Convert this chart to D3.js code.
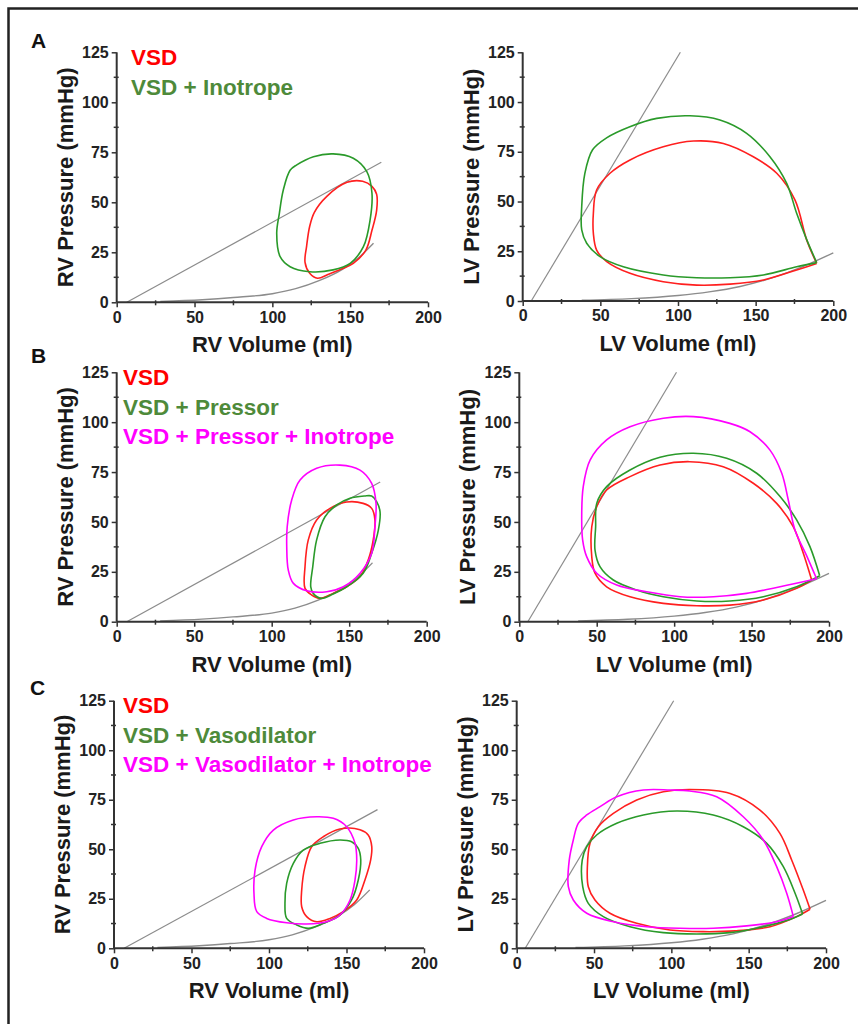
<!DOCTYPE html>
<html>
<head>
  <style>
    body {
      margin: 0;
      padding: 0;
      background: #fff;
      font-family: "Liberation Sans", Arial, sans-serif;
    }
    svg { display: block; }
  </style>
</head>
<body>
  <div id="chart"></div>

  <script src="https://cdnjs.cloudflare.com/ajax/libs/d3/7.8.5/d3.min.js"></script>
  <script>
    // axis ticks
    const volumeTicks = [0, 50, 100, 150, 200];
    const pressureTicks = [0, 25, 50, 75, 100, 125];

    // end-systolic (straight) and end-diastolic (curved) reference lines
    const rvEspvr = [[6.5, 0], [170, 70]];
    const lvEspvr = [[5.5, 0], [101.5, 125]];
    const rvEdpvr = [[28, 0.4], [55, 1.3], [75, 2.4], [100, 4.3], [115, 6.8], [130, 10.8], [145, 16.5], [155, 22], [165, 29.5]];
    const lvEdpvr = [[38, 0.4], [70, 1.2], [100, 2.8], [120, 4.6], [140, 7.3], [160, 11.5], [180, 17.2], [200, 24.2]];

    // legends
    const legendA = ['VSD', 'VSD + Inotrope'];
    const legendB = ['VSD', 'VSD + Pressor', 'VSD + Pressor + Inotrope'];
    const legendC = ['VSD', 'VSD + Vasodilator', 'VSD + Vasodilator + Inotrope'];

    // pressure-volume loops, [volume ml, pressure mmHg]
    // LV loops start at the end-diastolic corner
    const aRvVsd = [[121,20],[122,28],[124,38],[127,45],[135,53],[148,60],[158,60.5],[164,58],[167,54],[167,46],[164,36],[160,26],[152,19.5],[144,16.5],[136,14],[129,12],[124,14.5]];
    const aRvInotrope = [[111.4,66],[107,56],[104.5,44.5],[102.8,34.5],[105,22.8],[111.4,17.8],[124,15.3],[139,16.2],[150,19.5],[158.5,27.8],[162.8,41.2],[164,54.5],[160.7,65.3],[152,72],[139,74.2],[126.4,72.8],[115.7,68.7]];
    const aLvVsd = [[189.3,18.9],[182.9,30.6],[175.3,50.8],[163.6,64.2],[148.5,72.5],[129.2,79.2],[110,80.4],[90.5,77.5],[69.1,70.9],[56.2,64.2],[47.6,55.8],[45.5,44.1],[45.5,34],[47.6,25.6],[54.1,19.8],[69.1,13.9],[90.5,9.7],[112,8],[133.5,8.5],[155,10.6],[176.4,15.6]];
    const aLvInotrope = [[189.3,19.3],[183,30.6],[176.4,44.1],[170,59.1],[159.2,72.5],[144.2,84.3],[127,91],[107.7,93.1],[86.3,91.8],[69,87.6],[54,82],[45,76],[40,64],[38,47.4],[38,35.7],[41.2,29],[49.8,22.3],[64.8,17.2],[90.5,13.1],[112,11.7],[133.5,11.7],[155,13.1],[176.4,17.2]];

    const bRvVsd = [[159,59.3],[164.5,56.8],[166.6,51],[165.5,41],[162.3,31],[157,22.6],[148.4,17.5],[139.7,14.2],[131,11.7],[125.8,13.4],[121.5,16.7],[121.5,27.6],[123.6,41],[129,51],[137.6,56.8],[148.4,60]];
    const bRvPressor = [[150.5,61.9],[159.8,63],[164.5,63],[167.7,60.2],[169.9,55.1],[168.8,45.9],[164.5,34.3],[159,24.3],[148.4,17.5],[139.7,13.9],[132,11.7],[126.8,14.2],[125.2,17.5],[126.5,27.6],[129,41],[134.4,52.6],[141.9,58.5]];
    const bRvPressorInotrope = [[144,78.5],[129,76.9],[118.3,71],[112.9,61],[110,47.6],[109.7,37.6],[110.7,25.9],[114,19.2],[122.6,15.5],[135.5,15],[146.2,17.5],[157,24.3],[164.5,34.3],[166.6,47.6],[167.3,59.3],[164.5,69.3],[157,76]];
    const bLvVsd = [[188.8,20.9],[183.4,34.3],[176.9,47.6],[166.2,59.3],[151.1,69.4],[131.7,77.7],[110,80.2],[90.9,78.5],[71.5,72.7],[56.4,66],[50,57.6],[46.8,47.6],[46.8,32.6],[48.9,24.3],[56.4,17.5],[71.5,12.5],[93,9.2],[114.6,8],[136,8.3],[157.6,10.9],[179.1,16.7]];
    const bLvPressor = [[194,23],[187.7,37.6],[179.1,51],[168.4,62.7],[153.3,74.4],[133.9,81.9],[112.4,84.4],[90.9,82.4],[71.5,76],[56.4,67.7],[50,59.3],[49.3,47.6],[48.9,35.9],[52.1,27.6],[60.7,20.9],[75.8,15.9],[93,12.5],[114.6,10.4],[136,10.4],[157.6,12.5],[179.1,17.5]];
    const bLvPressorInotrope = [[192,21.5],[185.6,33],[178,46],[173.7,61],[169.5,74.4],[161.9,86],[149,95.2],[136,99.4],[112.4,102.8],[93,102],[71.5,97.7],[56.4,91.1],[45.7,81],[41.3,67.7],[40.3,52.6],[40.9,41],[43.5,32.6],[50,24.3],[62.9,18.4],[82.3,15],[103.8,12.5],[125.4,12.5],[146.8,14.2],[168.4,17.5]];

    const cRvVsd = [[158.7,59.9],[164,57.2],[166.3,51.3],[165.6,44.6],[161.9,34.5],[156.6,24.4],[147.9,18.5],[139.4,15.1],[130.8,13.4],[124.3,16],[121.1,21],[121.1,29.4],[123.2,41.2],[127.5,51.3],[135,56.3],[145.8,60.2]];
    const cRvVasodilator = [[145.8,54.7],[132.9,53],[122.1,49.6],[115.7,42.9],[111.4,32.8],[110.3,22.7],[111.4,15.1],[117.9,11.8],[125.4,10.1],[135,12.6],[145.8,16.8],[153.3,24.4],[157.6,34.5],[159.2,44.6],[157.6,50.5],[153.3,53.8]];
    const cRvVasoInotrope = [[130.8,66.4],[115.7,64.8],[102.8,59.7],[95.3,51.3],[91,39.5],[90.3,27.8],[92.1,18.5],[98.5,15.1],[111.4,12.9],[124.3,12.3],[137.2,13.4],[145.8,16.8],[152.3,24.4],[155.5,34.5],[156.6,44.6],[155.5,53],[150.1,61.4],[141.5,65.6]];
    const cLvVsd = [[189.7,19.7],[185.3,29.4],[177.8,44.6],[170.2,58],[157.3,69.8],[138,78.2],[112,80.2],[94.8,79],[77.6,74.9],[62.5,68.1],[52.8,61.4],[47.4,53],[45.7,41.2],[46.3,31.1],[50.6,24.4],[60.3,17.7],[77.6,12.6],[99.1,9.2],[120.7,8.4],[141.3,8.8],[163.8,10.9],[181,16]];
    const cLvVasodilator = [[184.9,17.3],[180,27.8],[172.4,41.2],[161.7,53],[146.5,61.4],[127.1,67.3],[103.5,69.3],[81.9,67.3],[64.7,63.1],[51.7,57.2],[45.3,51.3],[42.4,44.6],[42.7,31.1],[46.3,22.7],[56,16],[73.3,10.9],[94.8,7.9],[116.4,7.2],[138,7.9],[159.5,10.9],[176.7,14.6]];
    const cLvVasoInotrope = [[178.9,16],[174.6,27.8],[168.1,41.2],[159.5,54.7],[146.5,66.4],[129.3,76.5],[112,79.4],[99.1,79.9],[81.9,79.9],[64.7,76.5],[53.9,71.5],[45.3,67.3],[39.8,63.1],[36.6,54.7],[34,44.6],[33.4,31.1],[36.6,24.4],[45.3,17.7],[62.5,13.4],[84.1,10.9],[105.6,10.1],[127.1,10.1],[148.7,11.3],[168.1,13.4]];

    const loopColors = ['#ff1f1f', '#2a9a2a', '#ff00ff'];
    const textColors = ['#ff0000', '#4e8a3a', '#ff00ff'];

    const width = 858, height = 1024;

    const svg = d3.select('#chart').append('svg')
      .attr('width', width)
      .attr('height', height);

    // figure frame (top and left only)
    svg.append('path')
      .attr('d', 'M8.5,1024 L8.5,8.5 L858,8.5')
      .attr('fill', 'none')
      .attr('stroke', '#222')
      .attr('stroke-width', 2.5);

    const panels = [
      { letter: 'A', side: 'RV', legend: legendA, loops: [aRvVsd, aRvInotrope], x: [116.7, 428], y: [302.3, 52.3], legendX: 131, legendY: 65, letterPos: [31, 48] },
      { side: 'LV', loops: [aLvVsd, aLvInotrope], x: [522.7, 833.3], y: [301, 52.3] },
      { letter: 'B', side: 'RV', legend: legendB, loops: [bRvVsd, bRvPressor, bRvPressorInotrope], x: [116.7, 426.7], y: [621.7, 372.3], legendX: 123, legendY: 385, letterPos: [31, 363] },
      { side: 'LV', loops: [bLvVsd, bLvPressor, bLvPressorInotrope], x: [519.3, 829], y: [621.7, 372.3] },
      { letter: 'C', side: 'RV', legend: legendC, loops: [cRvVsd, cRvVasodilator, cRvVasoInotrope], x: [114, 424], y: [948.3, 700.7], legendX: 123, legendY: 713, letterPos: [30, 695] },
      { side: 'LV', loops: [cLvVsd, cLvVasodilator, cLvVasoInotrope], x: [516.7, 826], y: [948.3, 700.7] }
    ];

    panels.forEach(p => {
      const x = d3.scaleLinear().domain([0, 200]).range(p.x);
      const y = d3.scaleLinear().domain([0, 125]).range(p.y);
      const g = svg.append('g');

      const line = d3.line().x(d => x(d[0])).y(d => y(d[1]));
      const rvLoop = d3.line().x(d => x(d[0])).y(d => y(d[1]))
        .curve(d3.curveCatmullRomClosed.alpha(0.5));
      // LV loops keep a sharp end-diastolic corner: open curve from corner back to corner
      const lvLoop = d3.line().x(d => x(d[0])).y(d => y(d[1]))
        .curve(d3.curveCatmullRom.alpha(0.5));

      const espvr = p.side === 'RV' ? rvEspvr : lvEspvr;
      const edpvr = p.side === 'RV' ? rvEdpvr : lvEdpvr;

      g.append('path')
        .attr('d', line(espvr))
        .attr('fill', 'none')
        .attr('stroke', '#8c8c8c')
        .attr('stroke-width', 1.2);

      g.append('path')
        .attr('d', line.curve(d3.curveMonotoneX)(edpvr))
        .attr('fill', 'none')
        .attr('stroke', '#8c8c8c')
        .attr('stroke-width', 1.4);

      // axes
      const xAxis = g.append('g')
        .attr('transform', `translate(0,${p.y[0]})`)
        .call(d3.axisBottom(x).tickValues(volumeTicks).tickSize(5).tickPadding(4).tickFormat(d3.format('d')));
      const yAxis = g.append('g')
        .attr('transform', `translate(${p.x[0]},0)`)
        .call(d3.axisLeft(y).tickValues(pressureTicks).tickSize(5).tickPadding(3).tickFormat(d3.format('d')));

      // minor ticks
      xAxis.selectAll('.minor')
        .data([25, 75, 125, 175])
        .enter().append('line')
        .attr('x1', d => x(d)).attr('x2', d => x(d))
        .attr('y1', -2).attr('y2', 3);
      yAxis.selectAll('.minor')
        .data([12.5, 37.5, 62.5, 87.5, 112.5])
        .enter().append('line')
        .attr('y1', d => y(d)).attr('y2', d => y(d))
        .attr('x1', -3).attr('x2', 2);

      [xAxis, yAxis].forEach(a => {
        a.select('.domain').attr('stroke', '#333').attr('stroke-width', 2);
        a.selectAll('line').attr('stroke', '#333').attr('stroke-width', 1.5);
        a.selectAll('text')
          .attr('fill', '#222')
          .attr('font-size', 16)
          .attr('font-weight', 'bold')
          .attr('font-family', '"Liberation Sans", Arial, sans-serif');
      });
      xAxis.select('.domain').attr('d', `M${p.x[0]},0H${p.x[1]}`);
      yAxis.select('.domain').attr('d', `M0,${p.y[0]}V${p.y[1]}`);

      // loops
      p.loops.forEach((loop, i) => {
        const d = p.side === 'RV' ? rvLoop(loop) : lvLoop(loop.concat([loop[0]]));
        g.append('path')
          .attr('d', d)
          .attr('fill', 'none')
          .attr('stroke', loopColors[i])
          .attr('stroke-width', 1.6);
      });

      // axis titles
      g.append('text')
        .attr('x', (p.x[0] + p.x[1]) / 2)
        .attr('y', p.y[0] + 50)
        .attr('text-anchor', 'middle')
        .attr('font-size', 22)
        .attr('font-weight', 'bold')
        .attr('fill', '#1a1a1a')
        .text(`${p.side} Volume (ml)`);

      g.append('text')
        .attr('transform', `translate(${p.x[0] - 44},${(p.y[0] + p.y[1]) / 2}) rotate(-90)`)
        .attr('text-anchor', 'middle')
        .attr('font-size', 22)
        .attr('font-weight', 'bold')
        .attr('fill', '#1a1a1a')
        .text(`${p.side} Pressure (mmHg)`);

      if (p.legend) {
        g.selectAll('.legend')
          .data(p.legend)
          .enter().append('text')
          .attr('x', p.legendX)
          .attr('y', (d, i) => p.legendY + i * 29.5)
          .attr('font-size', 22.5)
          .attr('font-weight', 'bold')
          .attr('fill', (d, i) => textColors[i])
          .text(d => d);

        svg.append('text')
          .attr('x', p.letterPos[0])
          .attr('y', p.letterPos[1])
          .attr('font-size', 21)
          .attr('font-weight', 'bold')
          .attr('fill', '#111')
          .text(p.letter);
      }
    });
  </script>
</body>
</html>
